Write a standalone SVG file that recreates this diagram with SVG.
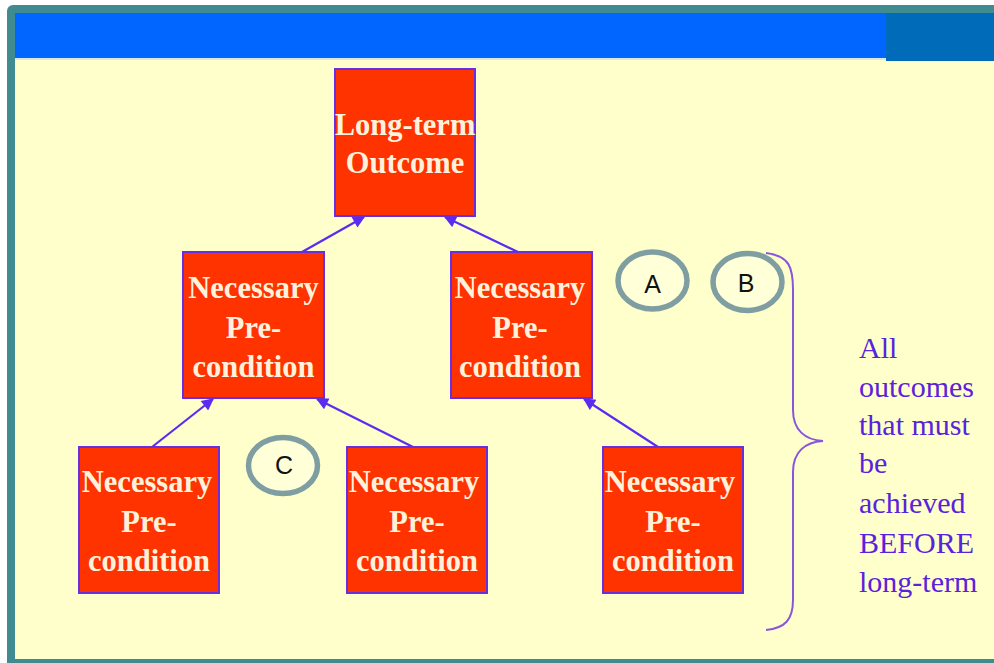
<svg xmlns="http://www.w3.org/2000/svg" width="994" height="663" viewBox="0 0 994 663">
<defs>
<style>
.node rect{fill:#ff3300;stroke:#6a2ee0;stroke-width:2}
.node text{font-family:"Liberation Serif","Times New Roman",serif;font-weight:bold;font-size:30.5px;fill:#fff2dc;text-anchor:middle}
.conn line{stroke:#5b2cf0;stroke-width:2.2}
.tag ellipse{fill:#ffffd8;stroke:#7f9ea2;stroke-width:5.5}
.tag text{font-family:"Liberation Sans",Arial,sans-serif;font-size:25px;fill:#111;text-anchor:middle}
.note{font-family:"Liberation Serif","Times New Roman",serif;font-size:30px;fill:#5a22dd}
</style>
<marker id="arr" viewBox="0 0 10 10" refX="9" refY="5" markerWidth="6" markerHeight="5.5" orient="auto" markerUnits="strokeWidth">
<path d="M0,0 L10,5 L0,10 z" fill="#5b2cf0"/>
</marker>
</defs>
<rect x="0" y="0" width="994" height="663" fill="#ffffff"/>
<rect x="7" y="5" width="1000" height="670" rx="6" fill="#3f8b8f"/>
<rect x="15" y="13" width="1000" height="646" fill="#ffffcc"/>
<rect x="15" y="13" width="871" height="45" fill="#0066ff"/>
<rect x="886" y="13" width="120" height="48" fill="#006bb8"/>
<line x1="15" y1="59" x2="886" y2="59" stroke="#c8e0f0" stroke-width="1.5"/>

<g id="connectors" class="conn">
<line x1="302" y1="252" x2="364" y2="217" marker-end="url(#arr)"/>
<line x1="518" y1="252" x2="445" y2="217" marker-end="url(#arr)"/>
<line x1="152" y1="447" x2="213" y2="399" marker-end="url(#arr)"/>
<line x1="413" y1="447" x2="317" y2="399" marker-end="url(#arr)"/>
<line x1="658" y1="447" x2="584" y2="399" marker-end="url(#arr)"/>
</g>

<g id="n-top" class="node">
<rect x="335" y="69" width="140" height="147"/>
<text x="405" y="135">Long-term</text>
<text x="405" y="173">Outcome</text>
</g>
<g id="n-mid-left" class="node">
<rect x="183" y="252" width="141" height="146"/>
<text x="253.5" y="298">Necessary</text>
<text x="253.5" y="338">Pre-</text>
<text x="253.5" y="377">condition</text>
</g>
<g id="n-mid-right" class="node">
<rect x="451" y="252" width="141" height="146"/>
<text x="520" y="298">Necessary</text>
<text x="520" y="338">Pre-</text>
<text x="520" y="377">condition</text>
</g>
<g id="n-bot-left" class="node">
<rect x="79" y="447" width="140" height="146"/>
<text x="147" y="492">Necessary</text>
<text x="149" y="532">Pre-</text>
<text x="149" y="571">condition</text>
</g>
<g id="n-bot-mid" class="node">
<rect x="347" y="447" width="140" height="146"/>
<text x="414" y="492">Necessary</text>
<text x="417" y="532">Pre-</text>
<text x="417" y="571">condition</text>
</g>
<g id="n-bot-right" class="node">
<rect x="603" y="447" width="140" height="146"/>
<text x="670" y="492">Necessary</text>
<text x="673" y="532">Pre-</text>
<text x="673" y="571">condition</text>
</g>

<g id="tag-a" class="tag">
<ellipse cx="652.5" cy="280.5" rx="34.5" ry="28.5"/>
<text x="652.5" y="293">A</text>
</g>
<g id="tag-b" class="tag">
<ellipse cx="747.5" cy="282" rx="34.5" ry="28.5"/>
<text x="746" y="292">B</text>
</g>
<g id="tag-c" class="tag">
<ellipse cx="283" cy="465.5" rx="34.5" ry="28"/>
<text x="284" y="474">C</text>
</g>

<g id="brace">
<path d="M766,253 C790,256 793,268 793,290 L793,410 C793,430 805,440 823,441 C805,442 793,452 793,472 L793,600 C793,620 785,628 766,630" fill="none" stroke="#8a55dd" stroke-width="2"/>
</g>
<g id="note" class="note">
<text x="859" y="358">All</text>
<text x="859" y="397">outcomes</text>
<text x="859" y="435">that must</text>
<text x="859" y="473">be</text>
<text x="859" y="513">achieved</text>
<text x="859" y="553">BEFORE</text>
<text x="859" y="592">long-term</text>
</g>
</svg>
